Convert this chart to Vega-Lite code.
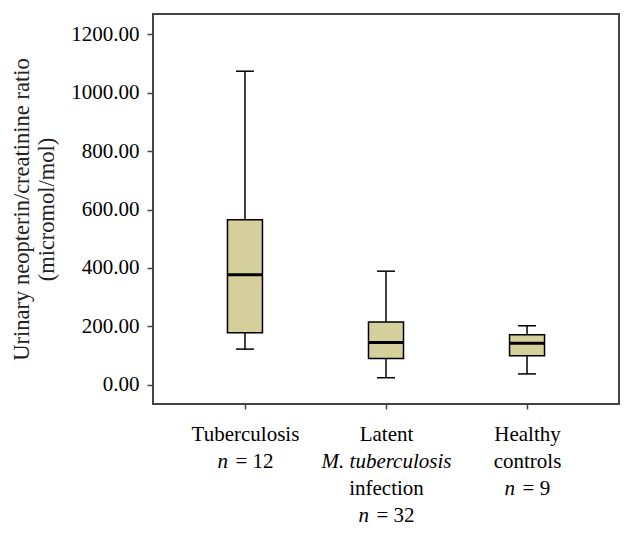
{
  "$schema": "https://vega.github.io/schema/vega-lite/v6.json",
  "autosize": "none",
  "width": 466,
  "height": 390,
  "padding": {"left": 153, "top": 14, "right": 15, "bottom": 129},
  "background": "white",
  "config": {
    "view": {"stroke": "#444444", "strokeWidth": 2},
    "font": "Liberation Serif",
    "axis": {"labelFont": "Liberation Serif", "labelColor": "black", "labelFontSize": 21}
  },
  "data": {
    "values": [
      {"group": "Tuberculosis", "lo": 122, "q1": 178, "med": 377, "q3": 565, "hi": 1074},
      {"group": "Latent", "lo": 24, "q1": 90, "med": 145, "q3": 215, "hi": 389},
      {"group": "Healthy", "lo": 37, "q1": 99, "med": 142, "q3": 171, "hi": 202}
    ]
  },
  "resolve": {"axis": {"x": "independent"}},
  "layer": [
    {
      "mark": {"type": "rule", "color": "black", "strokeWidth": 1.5, "opacity": 1},
      "encoding": {
        "x": {"field": "group", "type": "nominal", "sort": ["Tuberculosis", "Latent", "Healthy"],
          "scale": {"type": "point", "padding": 0.652},
          "axis": {"orient": "bottom", "title": null, "domain": false, "tickSize": 5, "tickColor": "#444", "tickWidth": 1.5,
            "labelAngle": 0, "labelPadding": 14, "labelBaseline": "top", "labelLineHeight": 27,
            "labelExpr": "datum.value == 'Tuberculosis' ? 'Tuberculosis' : datum.value == 'Latent' ? 'Latent' : ['Healthy', 'controls']"}},
        "y": {"field": "lo", "type": "quantitative",
          "scale": {"domain": [-66, 1270], "nice": false, "zero": false},
          "axis": {"values": [0, 200, 400, 600, 800, 1000, 1200], "format": ".2f", "grid": false, "domain": false,
            "tickSize": 6, "tickColor": "#444", "tickWidth": 1.5, "labelPadding": 8,
            "title": ["Urinary neopterin/creatinine ratio", "(micromol/mol)"], "titleFontSize": 22.5, "titleFontWeight": "normal",
            "titleColor": "#222", "titlePadding": 12, "titleLineHeight": 25, "titleFont": "Liberation Serif"}},
        "y2": {"field": "hi"}
      }
    },
    {
      "mark": {"type": "bar", "fill": "#d4cf9b", "stroke": "black", "strokeWidth": 1.5, "size": 35, "opacity": 1},
      "encoding": {
        "x": {"field": "group", "type": "nominal", "sort": ["Tuberculosis", "Latent", "Healthy"],
          "axis": {"orient": "bottom", "title": null, "domain": false, "ticks": false,
            "labelAngle": 0, "labelPadding": 46, "labelBaseline": "top", "labelFontStyle": "italic",
            "labelExpr": "datum.value == 'Latent' ? 'M. tuberculosis' : ''"}},
        "y": {"field": "q1", "type": "quantitative"},
        "y2": {"field": "q3"}
      }
    },
    {
      "mark": {"type": "tick", "color": "black", "thickness": 3, "size": 35, "orient": "horizontal", "opacity": 1},
      "encoding": {
        "x": {"field": "group", "type": "nominal", "sort": ["Tuberculosis", "Latent", "Healthy"],
          "axis": {"orient": "bottom", "title": null, "domain": false, "ticks": false,
            "labelAngle": 0, "labelPadding": 73, "labelBaseline": "top",
            "labelExpr": "datum.value == 'Latent' ? 'infection' : ''"}},
        "y": {"field": "med", "type": "quantitative"}
      }
    },
    {
      "mark": {"type": "tick", "color": "black", "thickness": 1.5, "size": 18, "orient": "horizontal", "opacity": 1},
      "encoding": {
        "x": {"field": "group", "type": "nominal", "sort": ["Tuberculosis", "Latent", "Healthy"],
          "axis": {"orient": "bottom", "title": null, "domain": false, "ticks": false,
            "labelAngle": 0, "labelBaseline": "top", "labelFontStyle": "italic", "labelAlign": "left",
            "labelPadding": {"condition": [{"test": "datum.value == 'Latent'", "value": 100}, {"test": "datum.value == 'Healthy'", "value": 73}], "value": 46},
            "labelOffset": {"condition": {"test": "datum.value == 'Healthy'", "value": -23}, "value": -28},
            "labelExpr": "'n'"}},
        "y": {"field": "hi", "type": "quantitative"}
      }
    },
    {
      "mark": {"type": "tick", "color": "black", "thickness": 1.5, "size": 18, "orient": "horizontal", "opacity": 1},
      "encoding": {
        "x": {"field": "group", "type": "nominal", "sort": ["Tuberculosis", "Latent", "Healthy"],
          "axis": {"orient": "bottom", "title": null, "domain": false, "ticks": false,
            "labelAngle": 0, "labelBaseline": "top", "labelAlign": "left",
            "labelPadding": {"condition": [{"test": "datum.value == 'Latent'", "value": 100}, {"test": "datum.value == 'Healthy'", "value": 73}], "value": 46},
            "labelOffset": {"condition": {"test": "datum.value == 'Healthy'", "value": -5}, "value": -10},
            "labelExpr": "datum.value == 'Tuberculosis' ? '= 12' : datum.value == 'Latent' ? '= 32' : '= 9'"}},
        "y": {"field": "lo", "type": "quantitative"}
      }
    }
  ]
}
